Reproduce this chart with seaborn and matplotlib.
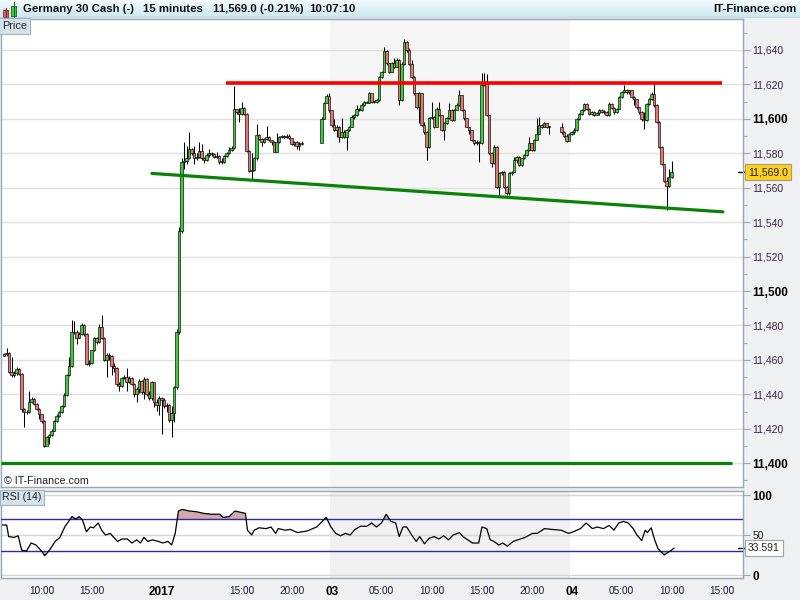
import numpy as np
import pandas as pd
import matplotlib
matplotlib.use('Agg')
import matplotlib.pyplot as plt
from matplotlib.patches import Rectangle
import seaborn as sns

sns.set_theme(style='white')
plt.rcParams['font.family'] = ['Liberation Sans', 'DejaVu Sans']

# ---------------- data (15-minute bars, bar index = position on the time axis) ----------------
first_bar = 1
first_open = 11462.5
closes = [
    11463.5, 11464, 11453, 11451, 11452.5, 11455, 11452, 11431.5, 11429.5, 11430,
    11435.5, 11437.5, 11434.5, 11431.5, 11428.5, 11424.5, 11410, 11415, 11416.5, 11419,
    11424.5, 11427.5, 11429.5, 11433, 11439.5, 11451, 11456.5, 11476.5, 11476, 11473,
    11475, 11480.5, 11475, 11457.5, 11458, 11465.5, 11472.5, 11470.5, 11479, 11473,
    11460, 11463, 11462.5, 11456.5, 11455.5, 11446, 11445, 11449.5, 11450, 11447,
    11449.5, 11446, 11440.5, 11443, 11448, 11441.5, 11449, 11440, 11438, 11447,
    11435.5, 11434, 11438, 11437, 11433.5, 11434, 11425, 11429, 11444, 11476,
    11535, 11575, 11575.5, 11577, 11582.5, 11580, 11577, 11578, 11581.5, 11577,
    11576, 11579, 11580, 11579.5, 11578, 11578.5, 11575, 11575, 11578.5, 11580,
    11582, 11583, 11605.5, 11604, 11603, 11606.5, 11603, 11581.5, 11570, 11570.5,
    11577, 11590.5, 11588.5, 11586.5, 11588.5, 11589.5, 11587.5, 11586.5, 11581, 11586.5,
    11589.5, 11590, 11589.5, 11590, 11589, 11585.5, 11586.5, 11584.5, 11585.5, 11586,
    None, None, None, None, None, None, None, 11600, 11609, 11613.5,
    11605, 11596.5, 11593.5, 11595.5, 11589.5, 11592.5, 11589.6, 11593.5, 11595.4, 11601,
    11602.2, 11606, 11605, 11608, 11610, 11609.5, 11614.8, 11610, 11610, 11611,
    11624.5, 11627.4, 11639.6, 11632.2, 11627.4, 11632.2, 11630.3, 11634.2, 11610.9, 11632,
    11644.8, 11640, 11632, 11624.5, 11614.8, 11607, 11614.8, 11596.4, 11592.5, 11583.8,
    11600.3, 11601.2, 11595.4, 11606, 11602.2, 11593.5, 11597.4, 11600.3, 11605.1, 11599.3,
    11605.1, 11608, 11613.8, 11605.1, 11600.3, 11595.4, 11593.5, 11587.7, 11585.7, 11586.7,
    11585.7, 11619.7, 11621.6, 11602.2, 11580, 11574.1, 11583.8, 11560.5, 11568.3, 11569.3,
    11560.5, 11556.7, 11568.3, 11569.3, 11576, 11578, 11573.1, 11577, 11579, 11581.9,
    11585.7, 11581.9, 11587.7, 11591.5, 11596.4, 11595.4, 11597.4, 11595.4, 11595.4, None,
    None, None, None, 11592.3, 11590.3, 11587.4, 11591.3, 11592.3, 11593.6, 11600,
    11602.9, 11604.9, 11608.8, 11605.9, 11602.9, 11603.9, 11602, 11603.3, 11604.9, 11603.9,
    11603.9, 11602, 11608.8, 11606.4, 11603.9, 11605.9, 11612.6, 11615.5, 11616.9, 11615.5,
    11616.5, 11612.6, 11611.7, 11606.8, 11603.9, 11600, 11599.1, 11608.8, 11611.7, 11614.6,
    11607.8, 11598.1, 11583.6, 11573.9, 11564.2, 11561.3, 11566.1, 11569,
]
highs = [
    11464, 11467, 11464.5, 11461.5, 11453.5, 11456, 11455.5, 11452.5, 11432, 11431,
    11442, 11438.5, 11438, 11435, 11432, 11428.5, 11425, 11416, 11417, 11420,
    11425, 11428.5, 11430.5, 11434, 11441, 11452, 11461.5, 11483, 11482.5, 11477.5,
    11476, 11481.5, 11481, 11475.5, 11460, 11466, 11473.5, 11473.5, 11481, 11486,
    11473.5, 11464, 11464, 11463, 11458, 11456, 11447, 11450, 11451, 11455.5,
    11450.5, 11450, 11446.5, 11444, 11449, 11448.5, 11450, 11449.5, 11442, 11448,
    11447, 11437.5, 11439, 11438.5, 11438, 11435, 11434.5, 11433.5, 11445, 11478,
    11537, 11577, 11586.5, 11584.5, 11592.3, 11583, 11584.5, 11580, 11586.5, 11585.5,
    11578, 11580, 11582.5, 11581, 11580, 11580.5, 11579, 11577, 11579, 11581,
    11583.6, 11584, 11619, 11606, 11606.5, 11610, 11607, 11603.5, 11582, 11580,
    11578, 11597, 11591, 11589, 11589, 11596, 11590, 11588, 11587, 11592,
    11590, 11590.5, 11590.5, 11591, 11591, 11589, 11587, 11587, 11586.5, 11587,
    None, None, None, None, None, None, None, 11601, 11610, 11614.5,
    11615, 11604, 11600, 11596.5, 11596, 11600.3, 11593.5, 11594, 11596, 11602,
    11603, 11608, 11606.5, 11609, 11610.5, 11610.5, 11615.8, 11614.5, 11610.5, 11611.5,
    11625, 11628, 11642, 11640, 11632.5, 11633, 11635.2, 11635.2, 11634.5, 11633,
    11646.2, 11645, 11641, 11634, 11625, 11615, 11615.5, 11615, 11598, 11593,
    11601, 11610, 11601.5, 11607, 11610, 11602.5, 11598, 11601, 11609, 11605.5,
    11606, 11609, 11616.7, 11614, 11605.5, 11600.5, 11595.5, 11593.5, 11588, 11587.5,
    11587, 11626.4, 11626.4, 11626, 11602.5, 11580.5, 11584.8, 11584, 11569, 11570,
    11569.5, 11561, 11569, 11570, 11578, 11578.5, 11578.5, 11577.5, 11579.5, 11582.5,
    11589.6, 11586, 11588.5, 11600.3, 11601.2, 11597, 11598, 11597.5, 11596, None,
    None, None, None, 11597.5, 11593, 11591, 11592, 11593, 11594.5, 11600.5,
    11603.5, 11605.5, 11609.5, 11609.5, 11606.5, 11604.5, 11604.5, 11603.9, 11605.5, 11605.5,
    11604.9, 11604.5, 11609.7, 11609.5, 11606.8, 11606.5, 11613, 11616, 11619.4, 11617.5,
    11617, 11616.9, 11613, 11611.7, 11606.8, 11604.5, 11603.9, 11609.5, 11612, 11615.5,
    11620, 11608.8, 11598.5, 11584, 11574, 11566, 11571, 11575.8,
]
lows = [
    11462, 11462.5, 11452.5, 11450, 11450, 11451, 11451.5, 11430, 11421, 11428.5,
    11429, 11435, 11434, 11431, 11425.5, 11423.5, 11409.5, 11410.5, 11411, 11416,
    11418.5, 11424, 11427, 11429, 11432.5, 11439, 11450.5, 11456, 11475, 11469.5,
    11472.5, 11474.5, 11474, 11457, 11456.5, 11457.5, 11465, 11469.5, 11470, 11472,
    11459.5, 11450, 11460, 11451, 11453, 11445, 11442, 11444.5, 11449, 11442,
    11446.5, 11445.5, 11438.5, 11435.5, 11441, 11440.5, 11437.5, 11439, 11436.5, 11437,
    11432.5, 11430.5, 11428, 11417, 11432, 11430, 11424, 11415, 11424, 11443,
    11475, 11534, 11571, 11574, 11576.5, 11579, 11574, 11576, 11577, 11576,
    11574.5, 11575.5, 11578, 11578.5, 11577, 11577.5, 11573.5, 11574, 11574.5, 11578,
    11579.5, 11581.5, 11582.5, 11603, 11598, 11602.5, 11602.5, 11581, 11569, 11564.5,
    11569.5, 11576, 11587.5, 11584.5, 11586, 11588, 11587, 11585, 11580.5, 11580.5,
    11586, 11589, 11589, 11589, 11588.5, 11585, 11584, 11582.5, 11582, 11585,
    None, None, None, None, None, None, None, 11587.5, 11600, 11609,
    11604, 11595, 11593, 11589.5, 11586.7, 11589, 11588.6, 11581.9, 11593, 11595,
    11600, 11601.5, 11604.5, 11604.5, 11607.5, 11609, 11609.5, 11609.5, 11609.5, 11609.5,
    11610.5, 11624, 11627, 11631.5, 11626.5, 11627, 11629.5, 11630, 11608, 11610.5,
    11631, 11639, 11631, 11623.5, 11614, 11606, 11597.4, 11596, 11591.5, 11576,
    11583, 11600, 11594.5, 11595, 11601.5, 11593, 11587.7, 11597, 11600, 11598.5,
    11599, 11605, 11607.5, 11604.5, 11599.5, 11595, 11591.5, 11587, 11585, 11584.8,
    11575, 11585.5, 11619, 11601.5, 11579.5, 11572.2, 11573.5, 11560, 11554.7, 11567.5,
    11560, 11555.7, 11556, 11567.5, 11569, 11574.5, 11572.5, 11572.5, 11576.5, 11578.5,
    11581.5, 11581.5, 11581.5, 11587.5, 11591, 11594.5, 11595, 11594.5, 11591.5, None,
    None, None, None, 11591.5, 11589.5, 11586.5, 11587, 11590.5, 11591.5, 11593,
    11599.5, 11602.5, 11604.5, 11605, 11602, 11602.5, 11601.5, 11602.5, 11602.5, 11603.5,
    11602.9, 11601.5, 11601.5, 11605.5, 11602.9, 11603.5, 11605.5, 11612, 11615, 11614.5,
    11614.6, 11612, 11607.8, 11605.5, 11603, 11599, 11594.2, 11598.5, 11608, 11611,
    11607, 11597.5, 11583, 11573, 11563.5, 11547.1, 11560.5, 11565.5,
]

rsi_bar = [0.3, 2, 2.8, 5, 6.6, 8, 9.9, 11.8, 13.7, 16.2,
           17.2, 19.1, 21.4, 23.3, 25.2, 28.1, 29.6, 31, 32.3, 33.9,
           35.4, 36.7, 38.6, 40, 41.5, 43.4, 46.3, 48.2, 50.2, 52.1,
           54, 55.5, 56.9, 58.4, 60.3, 62.6, 64.5, 66.5, 68, 69.4,
           70.7, 72.2, 75.1, 78, 80.9, 83.7, 87.2, 88.5, 91, 93.3,
           96.2, 97.5, 98.3, 100, 101, 102.9, 105.8, 107.7, 109.6, 110.6,
           113.5, 115.4, 118.3, 122.1, 126, 129.8, 131.7, 133.6, 135.5, 137.4,
           139.4, 141.3, 143.6, 146.1, 148, 149.9, 151.9, 153.8, 155.7, 157.6,
           159, 160.5, 162, 164, 165.8, 167.2, 169.1, 171, 173, 174.9,
           176.8, 178.7, 180.6, 183.1, 184.5, 186.4, 188.3, 190.8, 192.1, 194,
           195.4, 196.9, 198.8, 200.4, 202.3, 204.6, 206.5, 209.4, 212.3, 214.2,
           217.1, 220, 223.8, 226.7, 228.6, 231.5, 233.8, 236.3, 238.2, 240.7,
           243, 244.9, 246.8, 248.7, 250.6, 252.6, 254.1, 256, 257.4, 258.3,
           259.8, 261.2, 262.5, 263.7, 265, 266.4, 267.9, 268.9]
rsi_val = [62.5, 62.5, 48, 47, 49, 31, 30, 40, 37.5, 29,
           24, 31, 42, 47, 60, 73, 70, 73, 69, 54,
           60, 59, 65, 56, 50, 52, 42, 45, 45, 40,
           44, 40, 47, 42, 44, 42, 40, 42, 37.5, 52,
           80, 82, 80, 79, 77, 76, 76, 72, 73, 80,
           78, 77, 56, 50, 56, 59, 58, 60, 52, 58,
           56, 57, 53, 55, 60, 72, 60, 52, 49, 52,
           50, 57, 61, 61, 65, 60, 65, 76, 67, 65,
           48, 60, 60, 50, 42, 48, 39, 46, 48, 45,
           49, 44, 50, 53, 48, 44, 40, 40, 60, 58,
           44, 42, 37.5, 40, 36, 42, 44, 47, 52, 52,
           58, 57, 56, 52, 54, 58, 65, 58, 60, 58,
           62, 56, 65, 67, 65, 58, 50, 43, 56, 53,
           59, 44, 33, 29, 25, 28, 31, 33.6]

xtick_pos = [16, 36, 64, 96, 116, 132, 152, 172, 192, 212, 228, 248, 268, 288]
xtick_lab = ['10:00', '15:00', '2017', '15:00', '20:00', '03', '05:00',
             '10:00', '15:00', '20:00', '04', '05:00', '10:00', '15:00']
bold_labels = ['2017', '03', '04']

resistance = 11620.7
resistance_span = [89.7, 288.1]
floor_level = 11400
floor_span = [-0.3, 292.1]
trend_bars = [60.1, 288.5]
trend_prices = [11568.3, 11546.0]
day_span = [131.5, 227.5]
last_price = 11569.0
last_rsi = 33.591

# ---------------- frame ----------------
W, H = 800, 600
fig = plt.figure(figsize=(8, 6), dpi=100, facecolor='#eef0f2')


def px_box(x0, y0, x1, y1):
    return [x0 / W, 1 - y1 / H, (x1 - x0) / W, (y1 - y0) / H]


ax_top = fig.add_axes(px_box(0, 0, 800, 18))
ax = fig.add_axes(px_box(1, 19, 742.5, 487))
ax_rsi = fig.add_axes(px_box(1, 491, 742.5, 578), sharex=ax)
frame_col = '#9aa6b0'

# title bar
grad = np.linspace(0, 1, 18)[:, None, None]
c0 = np.array([0.95, 0.985, 0.995])
c1 = np.array([0.80, 0.90, 0.94])
ax_top.imshow(c0 + (c1 - c0) * grad * np.ones((1, 4, 1)), aspect='auto', extent=[0, 800, 18, 0])
ax_top.set_xlim(0, 800)
ax_top.set_ylim(18, 0)
ax_top.set_xticks([])
ax_top.set_yticks([])
for s in ax_top.spines.values():
    s.set_visible(False)
ax_top.axhline(17.6, color=frame_col, lw=1)
ax_top.plot([5.5, 5.5], [8, 18], color='#7a2020', lw=0.8)
ax_top.add_patch(Rectangle((3, 10), 5, 7, fc='#e06060', ec='#802a2a', lw=0.6))
ax_top.plot([13.5, 13.5], [2, 17], color='#206020', lw=0.8)
ax_top.add_patch(Rectangle((11, 5.5), 5, 10.5, fc='#3ed03e', ec='#206020', lw=0.6))
for x, s in [(23, 'Germany 30 Cash (-)'), (143, '15 minutes'),
             (213, '11,569.0 (-0.21%)'), (309, '10:07:10')]:
    ax_top.text(x, 9.5, s, va='center', ha='left', fontsize=8.2, weight='bold', color='#111111')
ax_top.text(796, 9.5, 'IT-Finance.com', va='center', ha='right', fontsize=8.2,
            weight='bold', color='#111111')

# ---------------- price panel ----------------
df = pd.DataFrame({'bar': np.arange(first_bar, first_bar + len(closes)),
                   'close': closes, 'high': highs, 'low': lows}, dtype=float)
df['open'] = df['close'].ffill().shift(1)
df.loc[df.index[0], 'open'] = first_open
df = df.dropna(subset=['close'])
up = df['close'] >= df['open']
body_lo = np.minimum(df['open'], df['close'])
body_h = np.maximum((df['close'] - df['open']).abs(), 0.5)

ax.set_facecolor('white')
ax.axvspan(day_span[0], day_span[1], color='#f6f6f6', lw=0, zorder=0)
ax.vlines(df['bar'], df['low'], df['high'], color='black', lw=0.75, zorder=2)
ax.bar(df['bar'], body_h, bottom=body_lo, width=1.0,
       color=np.where(up, '#3ccc3c', '#e87474'), edgecolor='black', linewidth=0.45, zorder=3)

ax.hlines(resistance, resistance_span[0], resistance_span[1], color='#ff0000', lw=2.6, zorder=4)
ax.hlines(floor_level, floor_span[0], floor_span[1], color='#0a820a', lw=2.3, zorder=4)
sns.lineplot(x=trend_bars, y=trend_prices, ax=ax, color='#0a820a', lw=2.3, zorder=4)

ax.set_xlim(-0.28, 296.32)
ax.set_ylim(11386.2, 11658.0)
price_ticks = list(range(11400, 11641, 20))
ax.set_yticks(price_ticks)
ax.set_yticklabels([f'{v:,}' for v in price_ticks])
ax.set_yticks(list(range(11390, 11660, 10)), minor=True)
ax.yaxis.tick_right()
ax.tick_params(axis='y', which='major', direction='out', length=5, width=0.8, color=frame_col,
               labelsize=7.5, labelcolor='#3d2748', pad=2, right=True)
ax.tick_params(axis='y', which='minor', direction='out', length=3, width=0.8, color=frame_col, right=True)
ax.tick_params(axis='x', bottom=False, labelbottom=False)
for lab, v in zip(ax.get_yticklabels(), price_ticks):
    if v % 100 == 0:
        lab.set_fontweight('bold')
        lab.set_fontsize(8.5)
        lab.set_color('black')
ax.grid(axis='y', which='major', color='#e0e0e0', lw=1)
ax.grid(axis='x', visible=False)
ax.set_axisbelow(True)
ax.set_xlabel('')
ax.set_ylabel('')
for s in ax.spines.values():
    s.set_color(frame_col)
    s.set_linewidth(1)

ax.text(0.0015, 0.996, 'Price', transform=ax.transAxes, va='top', ha='left', fontsize=7.8,
        color='#222222', bbox=dict(boxstyle='square,pad=0.25', fc='#d5e2eb', ec='#9fb2c0', lw=0.8))
ax.text(0.004, 0.013, '\u00a9 IT-Finance.com', transform=ax.transAxes, va='center', ha='left',
        fontsize=7.7, color='#222222')
ax.plot([0.994, 1.004], [last_price, last_price], transform=ax.get_yaxis_transform(),
        color='black', lw=1, clip_on=False)
ax.text(1.0075, last_price, f'{last_price:,.1f}', transform=ax.get_yaxis_transform(),
        va='center', ha='left', fontsize=7.5, color='#222222', clip_on=False, zorder=6,
        bbox=dict(boxstyle='square,pad=0.28', fc='#ffd020', ec='#a89c70', lw=0.8))

# ---------------- RSI panel ----------------
rsi_x = np.array(rsi_bar)
rsi_y = np.array(rsi_val)
ax_rsi.set_facecolor('white')
ax_rsi.axvspan(day_span[0], day_span[1], color='#f1f1f1', lw=0, zorder=0)
for lvl in [0, 50, 100]:
    ax_rsi.axhline(lvl, color='#d6d6d6', lw=1, zorder=1)
ax_rsi.fill_between(rsi_x, rsi_y, 70, where=rsi_y > 70, interpolate=True,
                    color='#d2a8a8', lw=0, zorder=2)
ax_rsi.fill_between(rsi_x, rsi_y, 30, where=rsi_y < 30, interpolate=True,
                    color='#a6d6b0', lw=0, zorder=2)
ax_rsi.axhline(70, color='#2b2ba6', lw=1, zorder=3)
ax_rsi.axhline(30, color='#2b2ba6', lw=1, zorder=3)
sns.lineplot(x=rsi_x, y=rsi_y, ax=ax_rsi, color='black', lw=0.9, zorder=4)

ax_rsi.set_ylim(-3.75, 105)
ax_rsi.set_yticks([0, 50, 100])
ax_rsi.set_yticklabels(['0', '50', '100'])
ax_rsi.yaxis.tick_right()
ax_rsi.tick_params(axis='y', direction='out', length=5, width=0.8, color=frame_col,
                   labelsize=7.5, labelcolor='#222222', pad=2, right=True)
for lab in ax_rsi.get_yticklabels():
    if lab.get_text() in ('0', '100'):
        lab.set_fontweight('bold')
        lab.set_fontsize(8.5)
        lab.set_color('black')
ax_rsi.set_xticks(xtick_pos)
ax_rsi.set_xticklabels(xtick_lab)
ax_rsi.tick_params(axis='x', bottom=False, length=0, labelsize=7.2, labelcolor='#1a1a33', pad=6)
for lab in ax_rsi.get_xticklabels():
    if lab.get_text() in bold_labels:
        lab.set_fontweight('bold')
        lab.set_fontsize(8.5)
        lab.set_color('black')
ax_rsi.set_xlim(-0.28, 296.32)
ax_rsi.grid(False)
ax_rsi.set_xlabel('')
ax_rsi.set_ylabel('')
for s in ax_rsi.spines.values():
    s.set_color(frame_col)
    s.set_linewidth(1)

ax_rsi.text(0.0015, 0.985, 'RSI (14)', transform=ax_rsi.transAxes, va='top', ha='left',
            fontsize=7.6, color='#222222',
            bbox=dict(boxstyle='square,pad=0.22', fc='#d5e2eb', ec='#9fb2c0', lw=0.8))
ax_rsi.plot([0.994, 1.004], [last_rsi, last_rsi], transform=ax_rsi.get_yaxis_transform(),
            color='black', lw=1, clip_on=False)
ax_rsi.text(1.0075, last_rsi, f'{last_rsi:.3f}', transform=ax_rsi.get_yaxis_transform(),
            va='center', ha='left', fontsize=7.5, color='#222222', clip_on=False, zorder=6,
            bbox=dict(boxstyle='square,pad=0.28', fc='white', ec='#9aa6b0', lw=0.8))

fig.savefig('out.png', dpi=100, facecolor=fig.get_facecolor())
